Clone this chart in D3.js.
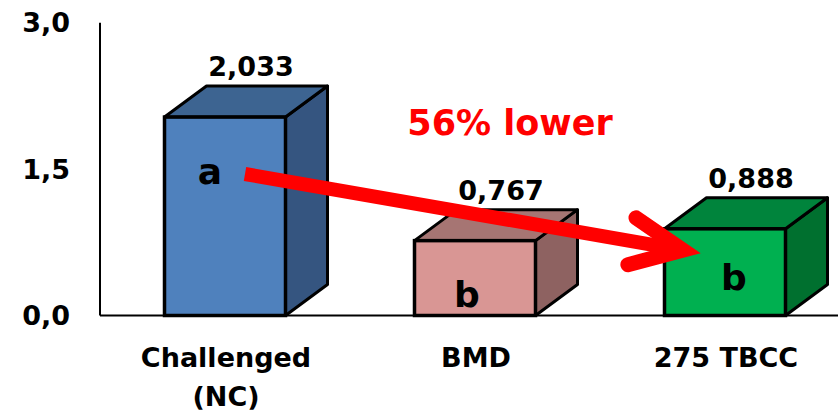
<!DOCTYPE html>
<html>
<head>
<meta charset="utf-8">
<script src="https://cdn.jsdelivr.net/npm/d3@7"></script>
<style>
  html, body { margin: 0; padding: 0; background: #fff; }
  svg { display: block; }
  text { font-family: "DejaVu Sans", "Liberation Sans", sans-serif; font-weight: 700; }
</style>
</head>
<body>
<svg id="chart" width="838" height="414"></svg>
<script>
// Data
const categories = ["Challenged (NC)", "BMD", "275 TBCC"];
const categoryLines = [["Challenged", "(NC)"], ["BMD"], ["275 TBCC"]];
const values = [2.033, 0.767, 0.888];
const valueLabels = ["2,033", "0,767", "0,888"];
const groupLetters = ["a", "b", "b"];
const tickValues = [0, 1.5, 3.0];
const tickLabels = ["0,0", "1,5", "3,0"];
const frontColors = ["#4F81BD", "#D99694", "#00B050"];
const topColors = ["#3D6491", "#A67573", "#00843C"];
const sideColors = ["#355580", "#8E6261", "#00702F"];
const annotationText = "56% lower";

const W = 838, H = 414;
const svg = d3.select("#chart");

const y = d3.scaleLinear().domain([0, 3]).range([315.5, 22.7]);
const x = d3.scalePoint().domain(categories).range([100, 850]).padding(0.5);
const barW = 121;
const depthX = 42, depthY = 31;

// Axis lines
svg.append("line")
  .attr("x1", 100).attr("x2", 100)
  .attr("y1", y(3)).attr("y2", y(0))
  .attr("stroke", "#000").attr("stroke-width", 2);
svg.append("line")
  .attr("x1", 100).attr("x2", W)
  .attr("y1", y(0)).attr("y2", y(0))
  .attr("stroke", "#000").attr("stroke-width", 2);

// Y tick labels
svg.append("g").selectAll("text")
  .data(tickValues)
  .join("text")
  .attr("x", 70)
  .attr("y", d => y(d))
  .attr("dy", "0.36em")
  .attr("text-anchor", "end")
  .attr("font-size", 27)
  .text((d, i) => tickLabels[i]);

// 3D bars
const bars = svg.append("g").selectAll("g")
  .data(values.map((v, i) => ({ v, i, cat: categories[i] })))
  .join("g");

bars.each(function(d) {
  const g = d3.select(this);
  const x0 = x(d.cat) - barW / 2, x1 = x0 + barW;
  const yt = y(d.v), yb = y(0);
  // side face
  g.append("path")
    .attr("d", `M${x1},${yb}L${x1 + depthX},${yb - depthY}L${x1 + depthX},${yt - depthY}L${x1},${yt}Z`)
    .attr("fill", sideColors[d.i]).attr("stroke", "#000")
    .attr("stroke-width", 3).attr("stroke-linejoin", "round");
  // top face
  g.append("path")
    .attr("d", `M${x0},${yt}L${x0 + depthX},${yt - depthY}L${x1 + depthX},${yt - depthY}L${x1},${yt}Z`)
    .attr("fill", topColors[d.i]).attr("stroke", "#000")
    .attr("stroke-width", 3).attr("stroke-linejoin", "round");
  // front face
  g.append("rect")
    .attr("x", x0).attr("y", yt)
    .attr("width", barW).attr("height", yb - yt)
    .attr("fill", frontColors[d.i]).attr("stroke", "#000")
    .attr("stroke-width", 3.5);
});

// Value labels above bars
svg.append("g").selectAll("text")
  .data(values)
  .join("text")
  .attr("x", (d, i) => x(categories[i]) + 26)
  .attr("y", d => y(d) - 41)
  .attr("text-anchor", "middle")
  .attr("font-size", 27)
  .text((d, i) => valueLabels[i]);

// Significance letters inside bars
const letterPos = [
  { dx: -15, v: 1.35 },
  { dx: -8, v: 0.09 },
  { dx: 9, v: 0.26 }
];
svg.append("g").selectAll("text")
  .data(groupLetters)
  .join("text")
  .attr("x", (d, i) => x(categories[i]) + letterPos[i].dx)
  .attr("y", (d, i) => y(letterPos[i].v))
  .attr("text-anchor", "middle")
  .attr("font-size", 36)
  .text(d => d);

// Category labels
const catG = svg.append("g").selectAll("text")
  .data(categories)
  .join("text")
  .attr("x", d => x(d) + 1)
  .attr("y", 367)
  .attr("text-anchor", "middle")
  .attr("font-size", 27);
catG.selectAll("tspan")
  .data((d, i) => categoryLines[i])
  .join("tspan")
  .attr("x", function() { return d3.select(this.parentNode).attr("x"); })
  .attr("dy", (d, j) => j === 0 ? 0 : 39)
  .text(d => d);

// Reduction annotation: arrow from the control bar towards the TBCC bar
const arrowStart = [x(categories[0]) + 20, y(1.45)];
const arrowEnd = [x(categories[2]) - 42, y(0.67)];
const ang = Math.atan2(arrowEnd[1] - arrowStart[1], arrowEnd[0] - arrowStart[0]);
const headLen = 57, headSpread = 0.43;
const arm = s => [arrowEnd[0] - headLen * Math.cos(ang + s * headSpread),
                  arrowEnd[1] - headLen * Math.sin(ang + s * headSpread)];
const arrow = svg.append("g");
arrow.append("path")
  .attr("d", d3.line()([arrowStart, arrowEnd]))
  .attr("stroke", "#FF0000").attr("stroke-width", 14)
  .attr("stroke-linecap", "butt").attr("fill", "none");
arrow.append("path")
  .attr("d", d3.line()([arm(1), arrowEnd, arm(-1)]))
  .attr("stroke", "#FF0000").attr("stroke-width", 15)
  .attr("stroke-linecap", "round").attr("stroke-linejoin", "miter")
  .attr("fill", "none");

svg.append("text")
  .attr("x", 510)
  .attr("y", 135)
  .attr("text-anchor", "middle")
  .attr("font-size", 35)
  .attr("fill", "#FF0000")
  .text(annotationText);
</script>
</body>
</html>
